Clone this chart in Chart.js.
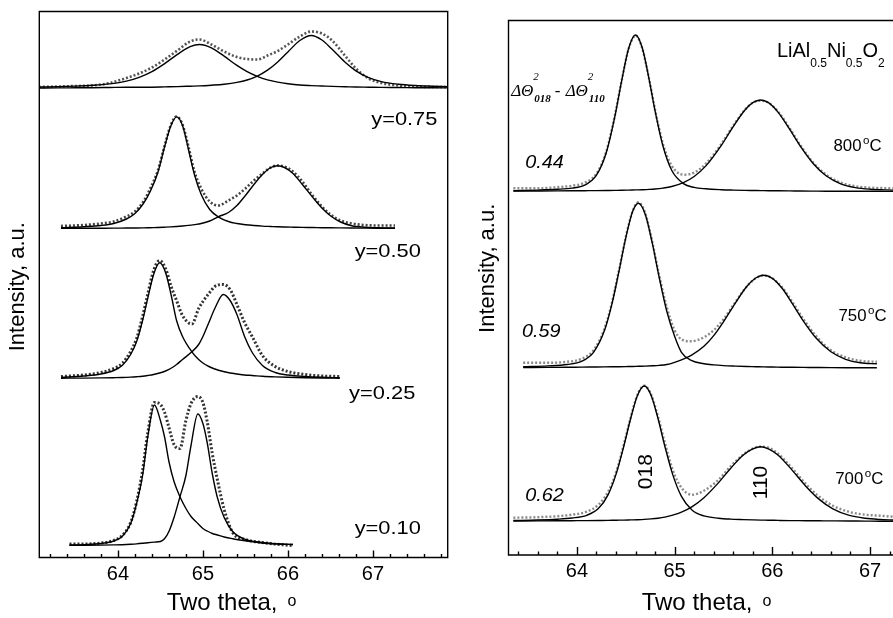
<!DOCTYPE html>
<html>
<head>
<meta charset="utf-8">
<script src="https://cdn.jsdelivr.net/npm/chart.js@4.4.1/dist/chart.umd.min.js"></script>
<style>
  html, body { margin: 0; padding: 0; background: #fff; }
  #wrap { position: relative; width: 893px; height: 618px; overflow: hidden; }
  canvas { position: absolute; top: 0; }
  #left { left: 0; }
  #right { left: 452px; }
</style>
</head>
<body>
<div id="wrap">
  <canvas id="left" width="452" height="618"></canvas>
  <canvas id="right" width="441" height="618"></canvas>
</div>
<script>
const SANS = "'Liberation Sans', Arial, sans-serif";
const SERIF = "'Liberation Serif', 'Times New Roman', serif";

const xTicks = [64, 65, 66, 67];

// ---- LiAl(1-y)Ni(y)O2 series: intensity above each trace's baseline ----
const y010Offset = 12;
const y010Theta = [63.43, 63.6, 63.8, 63.95, 64.05, 64.15, 64.22, 64.29, 64.35, 64.43, 64.5, 64.55, 64.6, 64.66, 64.73, 64.8, 64.86, 64.94, 65.0, 65.05, 65.11, 65.17, 65.25, 65.35, 65.5, 65.7, 65.9, 66.06];
const y010Peak018 = [0.3, 0.8, 2, 4.5, 9, 22, 42, 70, 108, 140.5, 125, 108, 84, 64, 48.8, 37, 29, 22, 17, 14.5, 12, 10.5, 8.5, 6.8, 4.8, 2.5, 1.5, 1];
const y010Peak110 = [0.3, 0.3, 0.4, 0.6, 0.8, 1.2, 1.6, 2.2, 2.8, 3.4, 4, 7, 14, 28, 48.8, 70, 100, 131.5, 122, 103, 72, 48, 28, 14, 6, 3, 1.5, 1];
const y010Obs = [1.5, 1.5, 2.5, 5, 10, 23, 44, 75, 112, 143, 141, 133, 118, 101, 97, 125, 142, 149, 143, 124, 92, 66, 36, 13, 6, 3, 1, 0];

const y025Offset = 179;
const y025Theta = [63.33, 63.6, 63.8, 63.95, 64.05, 64.15, 64.22, 64.29, 64.35, 64.42, 64.49, 64.56, 64.63, 64.69, 64.76, 64.87, 64.95, 65.0, 65.07, 65.14, 65.24, 65.32, 65.4, 65.49, 65.58, 65.7, 65.85, 66.0, 66.2, 66.4, 66.61];
const y025Peak018 = [1, 2.5, 4.5, 8, 13, 24, 37, 58, 80, 104, 115.7, 106, 82, 58, 42, 26.7, 19, 15.5, 12, 9.5, 7, 5.5, 4.5, 3.5, 3, 2.2, 1.6, 1.2, 0.8, 0.5, 0.3];
const y025Peak110 = [0.3, 0.4, 0.6, 0.8, 1, 1.4, 1.8, 2.3, 3, 4, 5.5, 7.5, 10.5, 14, 19, 26.7, 34, 42, 56, 70, 84, 78, 64, 42, 26, 13, 6, 3.5, 2, 1.2, 0.8];
const y025Obs = [2, 3.5, 6, 10, 15, 27, 40, 62, 84, 108, 118, 110, 91, 78, 63, 54.5, 70, 77, 85, 92, 94, 89, 74, 56, 42, 23, 12, 7, 4, 2.5, 2];

const y050Offset = 329;
const y050Theta = [63.33, 63.6, 63.8, 63.95, 64.1, 64.2, 64.3, 64.38, 64.47, 64.55, 64.62, 64.69, 64.76, 64.83, 64.9, 64.98, 65.08, 65.18, 65.3, 65.4, 65.5, 65.6, 65.7, 65.8, 65.88, 65.96, 66.06, 66.17, 66.29, 66.4, 66.5, 66.62, 66.75, 66.9, 67.05, 67.26];
const y050Peak018 = [0.8, 1.8, 3, 5, 9.5, 15, 25, 37, 56, 82, 102, 111.6, 103, 79, 54, 34, 19, 11.7, 7, 5, 3.8, 3, 2.4, 2, 1.7, 1.5, 1.3, 1.1, 1, 0.8, 0.7, 0.6, 0.5, 0.4, 0.3, 0.2];
const y050Peak110 = [0.2, 0.25, 0.3, 0.35, 0.45, 0.5, 0.6, 0.8, 1, 1.3, 1.6, 2, 2.5, 3.1, 3.9, 5, 7.5, 11.7, 16, 23, 33, 44, 54, 61, 62.7, 61, 55, 44, 31.4, 20.5, 12.8, 6.5, 2.8, 1.3, 0.8, 0.5];
const y050Obs = [2.5, 3.5, 5, 7, 12, 17, 27, 40, 58, 83, 103, 112, 104, 82, 57, 40, 27, 23, 28, 33, 40, 48, 55, 61, 63, 62, 57, 47, 33, 22, 14, 8, 5, 3.5, 3, 3];

const y075Offset = 469;
const y075Theta = [63.07, 63.3, 63.5, 63.7, 63.9, 64.1, 64.25, 64.4, 64.55, 64.7, 64.85, 64.96, 65.1, 65.25, 65.4, 65.52, 65.64, 65.76, 65.88, 66.0, 66.14, 66.275, 66.4, 66.52, 66.67, 66.8, 66.95, 67.1, 67.3, 67.5, 67.7, 67.88];
const y075Peak018 = [1.5, 1.9, 2.4, 3.2, 4.6, 7.4, 11.2, 16.9, 24.9, 34.1, 41.8, 44, 40.6, 32.3, 23.1, 16.9, 12.2, 8.7, 6.4, 4.8, 3.5, 2.9, 2.5, 2.1, 1.8, 1.5, 1.3, 1.1, 1, 0.8, 0.7, 0.6];
const y075Peak110 = [0.5, 0.6, 0.7, 0.8, 1, 1.2, 1.2, 1.3, 1.6, 1.9, 2.3, 2.6, 3.3, 4.3, 6.1, 8.5, 12.4, 18.3, 26.5, 36.6, 48, 53, 48.5, 39.2, 26.5, 17.7, 10.9, 6.9, 4.3, 3, 2.3, 1.8];
const y075Obs = [1.5, 2, 2.5, 3, 5.5, 10.5, 15, 21, 29, 38, 47, 49, 44, 37, 31.5, 29.5, 29, 33, 37.5, 44, 52, 57, 55, 48, 33, 20, 10, 5.5, 3, 2, 1.5, 1.5];

// ---- LiAl0.5Ni0.5O2 annealed at 700 / 750 / 800 C ----
const t800Offset = 363.3;
const t800Theta = [63.35, 63.6, 63.8, 63.95, 64.08, 64.2, 64.3, 64.39, 64.46, 64.53, 64.6, 64.67, 64.74, 64.8, 64.88, 64.97, 65.09, 65.2, 65.32, 65.48, 65.6, 65.72, 65.8, 65.88, 65.96, 66.06, 66.18, 66.29, 66.42, 66.55, 66.7, 66.85, 67.0, 67.24];
const t800Peak018 = [1, 1.6, 2.4, 3.6, 6.6, 16.5, 39, 75.9, 111.8, 143.4, 156.7, 143.4, 111.8, 80.8, 45.9, 21.4, 8.1, 4.3, 2.9, 2, 1.6, 1.3, 1.2, 1.1, 1, 0.9, 0.8, 0.7, 0.6, 0.5, 0.5, 0.4, 0.4, 0.3];
const t800Peak110 = [0.6, 0.7, 0.8, 0.9, 1, 1.1, 1.2, 1.3, 1.4, 1.6, 1.8, 2, 2.3, 2.7, 3.6, 5.2, 9.1, 15.2, 25.8, 46.6, 65.1, 81.7, 89, 91.7, 89, 79.3, 62, 45.1, 28, 15.9, 7.9, 4.1, 2.5, 1.6];
const t800Obs = [3.5, 3.5, 4.5, 6, 9, 18, 40, 77, 112, 143, 156, 143, 112, 82, 48, 26, 17, 19, 28, 48, 66, 82, 89, 91, 89, 80, 63, 46, 29, 17, 9, 5.5, 4, 3.5];

const t750Offset = 186.7;
const t750Theta = [63.45, 63.7, 63.9, 64.05, 64.17, 64.28, 64.36, 64.43, 64.5, 64.57, 64.63, 64.7, 64.77, 64.84, 64.92, 65.0, 65.07, 65.17, 65.3, 65.4, 65.5, 65.62, 65.74, 65.83, 65.91, 66.0, 66.1, 66.2, 66.32, 66.45, 66.6, 66.75, 66.9, 67.07];
const t750Peak018 = [1.5, 2.4, 3.8, 7.1, 16, 37.2, 65, 96.7, 130.4, 156.7, 165, 153.8, 125.9, 91.9, 57, 32, 16, 8, 4.6, 3.4, 2.7, 2.2, 1.8, 1.6, 1.4, 1.3, 1.1, 1, 0.9, 0.8, 0.7, 0.6, 0.5, 0.5];
const t750Peak110 = [0.8, 0.9, 1, 1.2, 1.3, 1.4, 1.5, 1.6, 1.7, 1.8, 2, 2.2, 2.5, 2.9, 3.8, 6, 8.5, 13, 22, 32.7, 46.5, 65, 82, 90.3, 93, 90, 80, 65.5, 47, 30, 16.5, 9, 5.5, 4.5];
const t750Obs = [5.5, 5.5, 6.5, 9.5, 18, 39, 66, 98, 131, 157, 166, 155, 127, 94, 61, 38, 29, 27, 31, 38, 49, 66, 82, 90, 93, 90, 81, 67, 49, 32, 18, 11, 7.5, 6.5];

const t700Offset = 33.3;
const t700Theta = [63.35, 63.6, 63.8, 63.95, 64.1, 64.22, 64.32, 64.4, 64.48, 64.55, 64.62, 64.69, 64.76, 64.83, 64.9, 64.98, 65.07, 65.18, 65.3, 65.45, 65.57, 65.7, 65.8, 65.88, 65.96, 66.06, 66.18, 66.34, 66.48, 66.62, 66.78, 66.95, 67.1, 67.24];
const t700Peak018 = [1.2, 1.7, 2.5, 3.7, 6.4, 13.1, 27.1, 47.3, 75.5, 103.2, 126.3, 135.7, 126.3, 103.2, 75.5, 47.3, 25.3, 11.4, 5.8, 3.5, 2.6, 2.1, 1.8, 1.6, 1.5, 1.3, 1.1, 1, 0.9, 0.8, 0.7, 0.6, 0.5, 0.5];
const t700Peak110 = [0.7, 0.8, 0.9, 1, 1.1, 1.2, 1.3, 1.5, 1.6, 1.8, 2, 2.3, 2.8, 3.5, 4.6, 6.5, 9.5, 15.1, 24, 39.1, 53, 66.5, 72.8, 75, 72.8, 66.5, 54.1, 35.8, 22.3, 12.8, 6.5, 3.4, 2.2, 1.7];
const t700Obs = [4, 4.5, 5.5, 7, 10, 17, 30, 49, 77, 104, 127, 136, 127, 105, 79, 52, 34, 27, 31, 42, 55, 67, 73, 75, 74, 68, 56, 38, 25, 16, 10, 7, 6, 5];

function toPoints(theta, values, offset) {
  return theta.map((t, i) => ({ x: t, y: values[i] + offset }));
}

// two fitted components on top, measured profile drawn underneath as a dotted trail
function traceSets(theta, p018, p110, obs, offset, obsColor, obsWidth) {
  const fit = {
    borderColor: '#000', borderWidth: 1.4, pointRadius: 0,
    cubicInterpolationMode: 'monotone', fill: false, order: 0
  };
  return [
    { ...fit, data: toPoints(theta, p018, offset) },
    { ...fit, data: toPoints(theta, p110, offset) },
    {
      data: toPoints(theta, obs, offset), borderColor: obsColor, borderWidth: obsWidth,
      borderDash: [2, 2], pointRadius: 0, cubicInterpolationMode: 'monotone', fill: false, order: 1
    }
  ];
}

const frameAndTicks = {
  id: 'frameAndTicks',
  afterDatasetsDraw(chart, args, opts) {
    const { ctx, chartArea: a, scales: { x } } = chart;
    ctx.save();
    ctx.strokeStyle = '#000';
    ctx.lineWidth = 1.4;
    ctx.beginPath();
    if (opts.closed) {
      ctx.rect(a.left, a.top, a.right - a.left, a.bottom - a.top);
    } else {
      ctx.moveTo(a.right + 2, a.top);
      ctx.lineTo(a.left, a.top);
      ctx.lineTo(a.left, a.bottom);
      ctx.lineTo(a.right + 2, a.bottom);
    }
    // inward ticks on the theta axis, minor every 0.2 deg
    for (let k = Math.ceil(x.min * 5); k <= Math.floor(x.max * 5); k++) {
      const px = Math.round(x.getPixelForValue(k / 5)) + 0.5;
      const len = k % 5 === 0 ? opts.major : opts.minor;
      ctx.moveTo(px, a.bottom);
      ctx.lineTo(px, a.bottom - len);
    }
    ctx.stroke();
    ctx.restore();
  }
};

function runWidth(ctx, runs) {
  let w = 0;
  runs.forEach(r => {
    ctx.font = r.font;
    if (!r.keep) w += (r.dx || 0) + ctx.measureText(r.text).width;
  });
  return w;
}

const panelText = {
  id: 'panelText',
  afterDraw(chart, args, opts) {
    const { ctx, scales: { x, y } } = chart;
    opts.items.forEach(item => {
      const px = item.px !== undefined ? item.px : x.getPixelForValue(item.x);
      const py = item.py !== undefined ? item.py : y.getPixelForValue(item.y);
      const sx = item.stretch || 1;
      ctx.save();
      ctx.fillStyle = '#000';
      ctx.textBaseline = item.baseline || 'middle';
      ctx.textAlign = 'left';
      ctx.translate(px, py);
      if (item.rotate) ctx.rotate(item.rotate);
      ctx.scale(sx, 1);
      let cx = item.center ? -runWidth(ctx, item.runs) / 2 : 0;
      item.runs.forEach(r => {
        ctx.font = r.font;
        cx += r.dx || 0;
        ctx.fillText(r.text, cx, r.dy || 0);
        if (!r.keep) cx += ctx.measureText(r.text).width;
      });
      ctx.restore();
    });
  }
};

function buildChart(canvasId, datasets, cfg) {
  return new Chart(document.getElementById(canvasId), {
    type: 'line',
    data: { datasets },
    options: {
      responsive: false,
      animation: false,
      events: [],
      layout: { padding: { top: cfg.top, right: cfg.right, left: 0, bottom: 0 } },
      plugins: {
        legend: { display: false },
        tooltip: { enabled: false },
        frameAndTicks: cfg.frame,
        panelText: { items: cfg.texts }
      },
      scales: {
        x: {
          type: 'linear', min: cfg.xMin, max: cfg.xMax,
          grid: { display: false, drawTicks: false },
          border: { display: false },
          ticks: { font: { family: SANS, size: 20 }, color: '#000', padding: cfg.labelPad },
          afterBuildTicks: s => { s.ticks = xTicks.map(v => ({ value: v })); },
          afterFit: s => { s.height = cfg.bottom; }
        },
        y: {
          type: 'linear', min: 0, max: cfg.yMax,
          grid: { display: false, drawTicks: false },
          border: { display: false },
          ticks: { display: false },
          afterFit: s => { s.width = cfg.left; }
        }
      }
    },
    plugins: [frameAndTicks, panelText]
  });
}

const titleFont = `24px ${SANS}`;
const degFont = `16px ${SANS}`;
const labelFont = `19px ${SANS}`;

buildChart('left', [
  ...traceSets(y075Theta, y075Peak018, y075Peak110, y075Obs, y075Offset, '#555', 2.6),
  ...traceSets(y050Theta, y050Peak018, y050Peak110, y050Obs, y050Offset, '#444', 2.6),
  ...traceSets(y025Theta, y025Peak018, y025Peak110, y025Obs, y025Offset, '#333', 3),
  ...traceSets(y010Theta, y010Peak018, y010Peak110, y010Obs, y010Offset, '#333', 3)
], {
  xMin: 63.075, xMax: 67.88, yMax: 546,
  top: 11.5, right: 4.3, left: 39.3, bottom: 60.5, labelPad: 5,
  frame: { closed: true, major: 7, minor: 3.5 },
  texts: [
    { x: 66.98, y: 437.5, stretch: 1.15, runs: [{ text: 'y=0.75', font: labelFont }] },
    { x: 66.785, y: 305.8, stretch: 1.15, runs: [{ text: 'y=0.50', font: labelFont }] },
    { x: 66.72, y: 164.2, stretch: 1.15, runs: [{ text: 'y=0.25', font: labelFont }] },
    { x: 66.785, y: 29.2, stretch: 1.15, runs: [{ text: 'y=0.10', font: labelFont }] },
    { px: 166.7, py: 610, baseline: 'alphabetic', runs: [
      { text: 'Two theta,', font: titleFont },
      { text: 'o', font: degFont, dx: 10, dy: -4 }
    ] },
    { px: 18.3, py: 286.7, rotate: -Math.PI / 2, center: true,
      runs: [{ text: 'Intensity, a.u.', font: `22px ${SANS}` }] }
  ]
});

const tempFont = `16px ${SANS}`;
const fracFont = `italic 18px ${SANS}`;
const subFont = `italic bold 11px ${SERIF}`;
const greekFont = `italic 17px ${SERIF}`;

function tempRuns(value) {
  return [
    { text: value, font: tempFont },
    { text: 'o', font: `11px ${SANS}`, dx: 1.5, dy: -6 },
    { text: 'C', font: tempFont }
  ];
}

buildChart('right', [
  ...traceSets(t800Theta, t800Peak018, t800Peak110, t800Obs, t800Offset, '#8a8a8a', 2.4),
  ...traceSets(t750Theta, t750Peak018, t750Peak110, t750Obs, t750Offset, '#8a8a8a', 2.4),
  ...traceSets(t700Theta, t700Peak018, t700Peak110, t700Obs, t700Offset, '#8a8a8a', 2.4)
], {
  xMin: 63.3, xMax: 67.235, yMax: 534.5,
  top: 20.5, right: 0, left: 56.5, bottom: 63, labelPad: 4,
  frame: { closed: false, major: 8, minor: 3.5 },
  texts: [
    { x: 66.047, y: 498.3, baseline: 'alphabetic', runs: [
      { text: 'LiAl', font: `20px ${SANS}` },
      { text: '0.5', font: `12px ${SANS}`, dy: 10 },
      { text: 'Ni', font: `20px ${SANS}` },
      { text: '0.5', font: `12px ${SANS}`, dy: 10 },
      { text: 'O', font: `20px ${SANS}` },
      { text: '2', font: `12px ${SANS}`, dy: 10 }
    ] },
    { x: 63.328, y: 459, baseline: 'alphabetic', runs: [
      { text: 'ΔΘ', font: greekFont },
      { text: '2', font: `italic 11px ${SERIF}`, dy: -16, keep: true },
      { text: '018', font: subFont, dx: 1, dy: 5.7 },
      { text: '-', font: `17px ${SERIF}`, dx: 4 },
      { text: 'ΔΘ', font: greekFont, dx: 5.5 },
      { text: '2', font: `italic 11px ${SERIF}`, dy: -16, keep: true },
      { text: '110', font: subFont, dx: 1, dy: 5.7 }
    ] },
    { x: 63.471, y: 391.7, stretch: 1.1, runs: [{ text: '0.44', font: fracFont }] },
    { x: 63.437, y: 223.3, stretch: 1.1, runs: [{ text: '0.59', font: fracFont }] },
    { x: 63.471, y: 59, stretch: 1.1, runs: [{ text: '0.62', font: fracFont }] },
    { x: 66.626, y: 408.3, stretch: 1.05, runs: tempRuns('800') },
    { x: 66.677, y: 238.3, stretch: 1.05, runs: tempRuns('750') },
    { x: 66.644, y: 75, stretch: 1.05, runs: tempRuns('700') },
    { x: 64.706, y: 83.3, rotate: -Math.PI / 2, center: true, runs: [{ text: '018', font: `21px ${SANS}` }] },
    { x: 65.883, y: 72.5, rotate: -Math.PI / 2, center: true, runs: [{ text: '110', font: `21px ${SANS}` }] },
    { px: 189.7, py: 610, baseline: 'alphabetic', runs: [
      { text: 'Two theta,', font: titleFont },
      { text: 'o', font: degFont, dx: 10, dy: -4 }
    ] },
    { px: 36.3, py: 268.3, rotate: -Math.PI / 2, center: true,
      runs: [{ text: 'Intensity, a.u.', font: `22px ${SANS}` }] }
  ]
});
</script>
</body>
</html>
